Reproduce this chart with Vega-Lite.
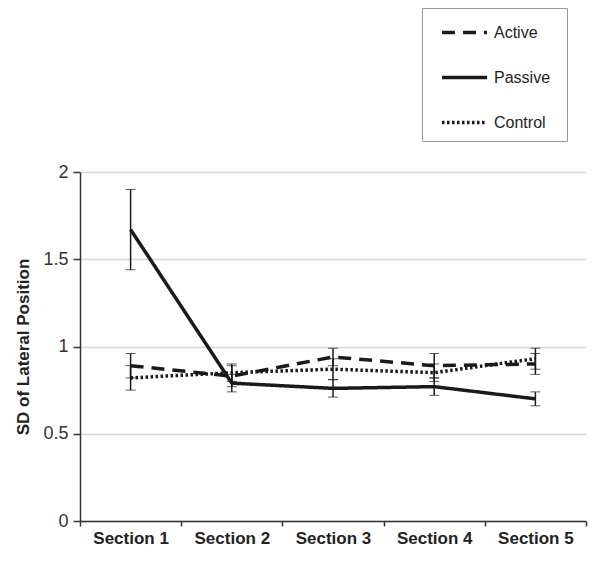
{
  "$schema": "https://vega.github.io/schema/vega-lite/v6.json",
  "width": 506,
  "height": 349,
  "autosize": {"type": "none"},
  "padding": {"left": 80, "top": 172, "right": 14, "bottom": 43},
  "background": "white",
  "data": {
    "values": [
      {"section": "Section 1", "group": "Active", "mean": 0.89, "lo": 0.82, "hi": 0.96},
      {"section": "Section 2", "group": "Active", "mean": 0.83, "lo": 0.77, "hi": 0.89},
      {"section": "Section 3", "group": "Active", "mean": 0.94, "lo": 0.89, "hi": 0.99},
      {"section": "Section 4", "group": "Active", "mean": 0.89, "lo": 0.82, "hi": 0.96},
      {"section": "Section 5", "group": "Active", "mean": 0.90, "lo": 0.84, "hi": 0.96},
      {"section": "Section 1", "group": "Passive", "mean": 1.67, "lo": 1.44, "hi": 1.90},
      {"section": "Section 2", "group": "Passive", "mean": 0.79, "lo": 0.74, "hi": 0.84},
      {"section": "Section 3", "group": "Passive", "mean": 0.76, "lo": 0.71, "hi": 0.81},
      {"section": "Section 4", "group": "Passive", "mean": 0.77, "lo": 0.72, "hi": 0.82},
      {"section": "Section 5", "group": "Passive", "mean": 0.70, "lo": 0.66, "hi": 0.74},
      {"section": "Section 1", "group": "Control", "mean": 0.82, "lo": 0.75, "hi": 0.89},
      {"section": "Section 2", "group": "Control", "mean": 0.85, "lo": 0.80, "hi": 0.90},
      {"section": "Section 3", "group": "Control", "mean": 0.87, "lo": 0.81, "hi": 0.93},
      {"section": "Section 4", "group": "Control", "mean": 0.85, "lo": 0.80, "hi": 0.90},
      {"section": "Section 5", "group": "Control", "mean": 0.93, "lo": 0.87, "hi": 0.99}
    ]
  },
  "encoding": {
    "x": {
      "field": "section",
      "type": "nominal",
      "sort": null,
      "scale": {"paddingInner": 0, "paddingOuter": 0},
      "axis": {
        "title": null,
        "labelAngle": 0,
        "labelFont": "Liberation Sans",
        "labelFontSize": 17,
        "labelFontWeight": "bold",
        "labelColor": "#222",
        "labelPadding": 4,
        "domainColor": "#333",
        "domainWidth": 1.5,
        "tickColor": "#333",
        "tickWidth": 1.5,
        "tickSize": 5,
        "tickBand": "extent",
        "grid": false
      }
    }
  },
  "layer": [
    {
      "mark": {
        "type": "errorbar",
        "ticks": {"size": 10, "color": "#1a1a1a", "strokeWidth": 1.5},
        "rule": {"strokeWidth": 1.5, "color": "#1a1a1a"}
      },
      "encoding": {
        "y": {
          "field": "lo",
          "type": "quantitative",
          "scale": {"domain": [0, 2]},
          "title": "SD of Lateral Position",
          "axis": {"values": [0, 0.5, 1, 1.5, 2], "format": "~g"}
        },
        "y2": {"field": "hi"}
      }
    },
    {
      "mark": {"type": "line", "strokeWidth": 3.5, "color": "#1a1a1a"},
      "encoding": {
        "y": {
          "field": "mean",
          "type": "quantitative",
          "scale": {"domain": [0, 2]},
          "title": "SD of Lateral Position",
          "axis": {"values": [0, 0.5, 1, 1.5, 2], "format": "~g"}
        },
        "strokeDash": {
          "field": "group",
          "type": "nominal",
          "scale": {"domain": ["Active", "Passive", "Control"], "range": [[13, 8], [1, 0], [2.5, 2.5]]},
          "legend": {
            "orient": "none",
            "legendX": 342,
            "legendY": -164,
            "title": "\u2003",
            "titleOrient": "bottom",
            "titleFontSize": 8,
            "titlePadding": 2,
            "padding": 0,
            "strokeColor": "#999",
            "fillColor": "white",
            "symbolType": "stroke",
            "symbolSize": 2025,
            "symbolStrokeWidth": 3.5,
            "symbolStrokeColor": "#1a1a1a",
            "symbolOffset": 18,
            "labelFont": "Liberation Sans",
            "labelFontSize": 16,
            "labelColor": "#222",
            "labelOffset": 5,
            "labelExpr": "datum.label + '\u2003\u200b'",
            "rowPadding": 12
          }
        }
      }
    }
  ],
  "config": {
    "view": {"stroke": null},
    "axisY": {
      "titleFont": "Liberation Sans",
      "titleFontSize": 17,
      "titleFontWeight": "bold",
      "titleColor": "#222",
      "titlePadding": 10,
      "labelFont": "Liberation Sans",
      "labelFontSize": 18,
      "labelColor": "#333",
      "labelPadding": 5,
      "tickSize": 7,
      "tickColor": "#333",
      "tickWidth": 1.5,
      "domainColor": "#333",
      "domainWidth": 1.5,
      "gridColor": "#d6d6d6",
      "gridWidth": 1.5
    }
  }
}
